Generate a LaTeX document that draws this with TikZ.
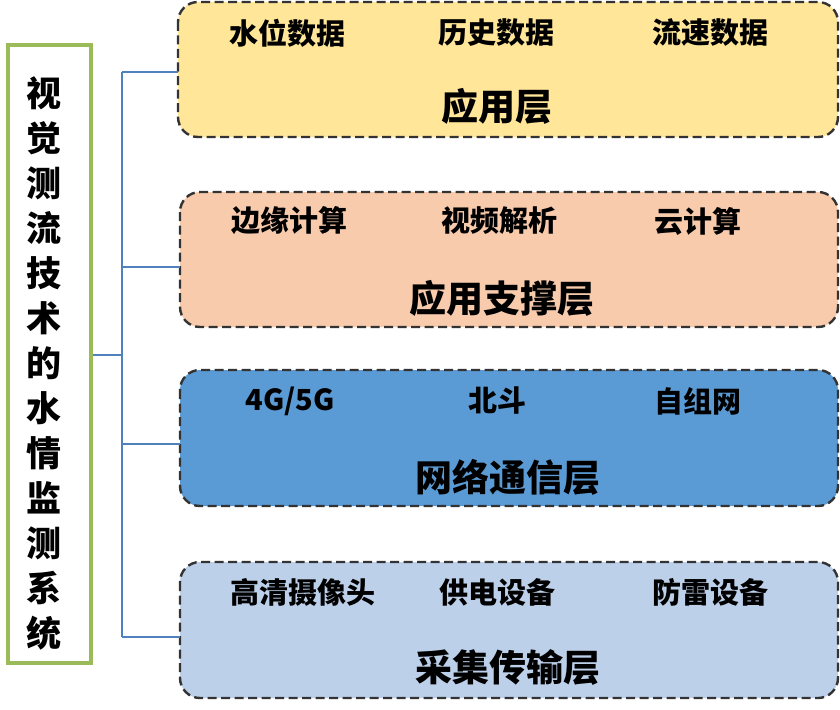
\documentclass[tikz,border=0pt]{standalone}
\usepackage{fontspec}
\setmainfont{Noto Sans CJK SC}
\definecolor{boxgreen}{HTML}{9BBB59}
\definecolor{linkblue}{HTML}{4F81BD}
\definecolor{dashgray}{HTML}{333333}
\definecolor{fillA}{HTML}{FFE699}
\definecolor{fillB}{HTML}{F8CBAD}
\definecolor{fillC}{HTML}{5B9BD5}
\definecolor{fillD}{HTML}{BDD0EA}
\begin{document}
\begin{tikzpicture}[x=1pt,y=-1pt,
  layer/.style={draw=dashgray,line width=2.4pt,dash pattern=on 9pt off 4.5pt,rounded corners=20pt},
  item/.style={font=\fontsize{29}{32}\selectfont\bfseries,anchor=center,inner sep=0pt},
  title/.style={font=\fontsize{37}{42}\selectfont\bfseries,anchor=center,inner sep=0pt},
  link/.style={draw=linkblue,line width=2.4pt}]
\useasboundingbox (0,0) rectangle (840,709);
% left box
\node[draw=boxgreen,line width=4pt,minimum width=83pt,minimum height=618pt,inner sep=0pt] (sys) at (49.5,354) {};
\node[font=\fontsize{35}{45}\selectfont\bfseries,align=center,inner sep=0pt] (systext) at (44,363)
 {视\\觉\\测\\流\\技\\术\\的\\水\\情\\监\\测\\系\\统};
% layer boxes
\path[layer,fill=fillA] (178,2) rectangle (838,137);
\node[inner sep=0pt,minimum size=0pt] (L1) at (178,72) {};
\path[layer,fill=fillB] (180,192) rectangle (838,327);
\node[inner sep=0pt,minimum size=0pt] (L2) at (180,267) {};
\path[layer,fill=fillC] (180,370) rectangle (838,506);
\node[inner sep=0pt,minimum size=0pt] (L3) at (180,444) {};
\path[layer,fill=fillD] (180,562) rectangle (838,698);
\node[inner sep=0pt,minimum size=0pt] (L4) at (180,637) {};
% connectors
\coordinate (trunk) at (122,355);
\coordinate (t1) at (122,72);
\coordinate (t2) at (122,267);
\coordinate (t3) at (122,444);
\coordinate (t4) at (122,637);
\draw[link] (sys.east |- trunk) -- (trunk);
\draw[link] (t1) -- (t4);
\draw[link] (t1) -- (L1);
\draw[link] (t2) -- (L2);
\draw[link] (t3) -- (L3);
\draw[link] (t4) -- (L4);
% texts layer 1
\node[item] (a1) at (287,33) {水位数据};
\node[item] (a2) at (496,33) {历史数据};
\node[item] (a3) at (710,33) {流速数据};
\node[title] (at) at (497,106) {应用层};
% layer 2
\node[item] (b1) at (289,221) {边缘计算};
\node[item] (b2) at (499,221) {视频解析};
\node[item] (b3) at (698,221) {云计算};
\node[title] (bt) at (502,298) {应用支撑层};
% layer 3
\node[item] (c1) at (290,401) {4G/5G};
\node[item] (c2) at (497,401) {北斗};
\node[item] (c3) at (698,401) {自组网};
\node[title] (ct) at (508,477) {网络通信层};
% layer 4
\node[item] (d1) at (303,592) {高清摄像头};
\node[item] (d2) at (497,592) {供电设备};
\node[item] (d3) at (710,592) {防雷设备};
\node[title] (dt) at (508,667) {采集传输层};
\end{tikzpicture}
\end{document}
